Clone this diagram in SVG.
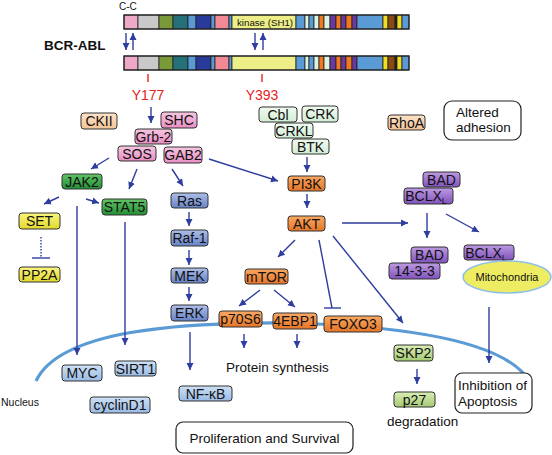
<svg xmlns="http://www.w3.org/2000/svg" width="552" height="455" viewBox="0 0 552 455">
<style>
text{font-family:"Liberation Sans",Arial,sans-serif;fill:#111}
.lb{font-size:14px;text-anchor:middle}
.bx{stroke:#333;stroke-width:1}
.seg{stroke:#222;stroke-width:0.8}
.ar{stroke:#2e3d9e;stroke-width:1.4;fill:none;marker-end:url(#ah)}
.ln{stroke:#2e3d9e;stroke-width:1.4;fill:none}
.red{stroke:#e8201c;stroke-width:1.4}
.rt{font-size:14px;fill:#e8201c;text-anchor:middle}
.pl{font-size:13.5px}
.rb{fill:#fff;stroke:#222;stroke-width:1.2}
</style>
<defs>
<marker id="ah" markerWidth="8" markerHeight="8" refX="7" refY="4" orient="auto" markerUnits="userSpaceOnUse"><path d="M0,0.5 L7,4 L0,7.5 Z" fill="#2e3d9e"/></marker>
<linearGradient id="gPink" x1="0" y1="0" x2="0" y2="1"><stop offset="0" stop-color="#f6c6e0"/><stop offset="1" stop-color="#e88ec3"/></linearGradient>
<linearGradient id="gPeach" x1="0" y1="0" x2="0" y2="1"><stop offset="0" stop-color="#fce3c8"/><stop offset="1" stop-color="#f5c295"/></linearGradient>
<linearGradient id="gMint" x1="0" y1="0" x2="0" y2="1"><stop offset="0" stop-color="#f0faf0"/><stop offset="1" stop-color="#d3edd5"/></linearGradient>
<linearGradient id="gGreen" x1="0" y1="0" x2="0" y2="1"><stop offset="0" stop-color="#62c466"/><stop offset="1" stop-color="#238e36"/></linearGradient>
<linearGradient id="gYellow" x1="0" y1="0" x2="0" y2="1"><stop offset="0" stop-color="#faf480"/><stop offset="1" stop-color="#e2d92c"/></linearGradient>
<linearGradient id="gBlue" x1="0" y1="0" x2="0" y2="1"><stop offset="0" stop-color="#aebee8"/><stop offset="1" stop-color="#6682c6"/></linearGradient>
<linearGradient id="gOrange" x1="0" y1="0" x2="0" y2="1"><stop offset="0" stop-color="#faa862"/><stop offset="1" stop-color="#e67526"/></linearGradient>
<linearGradient id="gPurple" x1="0" y1="0" x2="0" y2="1"><stop offset="0" stop-color="#bd9ae2"/><stop offset="1" stop-color="#8052bc"/></linearGradient>
<linearGradient id="gLBlue" x1="0" y1="0" x2="0" y2="1"><stop offset="0" stop-color="#cde0f5"/><stop offset="1" stop-color="#9abbe5"/></linearGradient>
<linearGradient id="gLGreen" x1="0" y1="0" x2="0" y2="1"><stop offset="0" stop-color="#d9edb4"/><stop offset="1" stop-color="#a6ca74"/></linearGradient>
<g id="barSegs">
<rect class="seg" x="124" y="0" width="14" height="14" fill="#f0a8c8"/>
<rect class="seg" x="138" y="0" width="21" height="14" fill="#c9c9c9"/>
<rect class="seg" x="159" y="0" width="14" height="14" fill="#7a9a3a"/>
<rect class="seg" x="173" y="0" width="15" height="14" fill="#26707a"/>
<rect class="seg" x="188" y="0" width="8" height="14" fill="#5b9bd5"/>
<rect class="seg" x="196" y="0" width="15" height="14" fill="#2a3a9a"/>
<rect class="seg" x="211" y="0" width="4" height="14" fill="#5b9bd5"/>
<rect class="seg" x="215" y="0" width="14" height="14" fill="#f28a96"/>
<rect class="seg" x="229" y="0" width="3" height="14" fill="#5b9bd5"/>
<rect class="seg" x="232" y="0" width="64" height="14" fill="#eeee88"/>
<rect class="seg" x="296" y="0" width="9" height="14" fill="#5b9bd5"/>
<rect class="seg" x="305" y="0" width="4" height="14" fill="#dcf2e2"/>
<rect class="seg" x="309" y="0" width="5" height="14" fill="#5b9bd5"/>
<rect class="seg" x="314" y="0" width="5" height="14" fill="#dcf2e2"/>
<rect class="seg" x="319" y="0" width="5" height="14" fill="#f07820"/>
<rect class="seg" x="324" y="0" width="6" height="14" fill="#dcf2e2"/>
<rect class="seg" x="330" y="0" width="6" height="14" fill="#6a38a0"/>
<rect class="seg" x="336" y="0" width="5" height="14" fill="#f07820"/>
<rect class="seg" x="341" y="0" width="5" height="14" fill="#6a38a0"/>
<rect class="seg" x="346" y="0" width="6" height="14" fill="#f07820"/>
<rect class="seg" x="352" y="0" width="5" height="14" fill="#6a38a0"/>
<rect class="seg" x="357" y="0" width="26" height="14" fill="#5b9bd5"/>
<rect class="seg" x="383" y="0" width="5" height="14" fill="#f0dc20"/>
<rect class="seg" x="388" y="0" width="7" height="14" fill="#8a4a12"/>
<rect class="seg" x="395" y="0" width="2" height="14" fill="#222"/>
<rect class="seg" x="397" y="0" width="5" height="14" fill="#f0dc20"/>
<rect class="seg" x="402" y="0" width="7" height="14" fill="#5b9bd5"/>
<rect x="124" y="0" width="285" height="14" fill="none" stroke="#222" stroke-width="1.2"/>
</g>
</defs>
<rect width="552" height="455" fill="#fff"/>

<!-- nucleus membrane -->
<path d="M36,381 C60,330 180,322 290,323 C400,326 495,340 525,375" fill="none" stroke="#5b9bd5" stroke-width="3.2"/>
<text x="1" y="406" style="font-size:10.5px">Nucleus</text>

<!-- BCR-ABL bars -->
<g id="bcr-abl">
<text x="119" y="10" style="font-size:10px">C-C</text>
<text x="44" y="50" style="font-size:13.5px;font-weight:bold">BCR-ABL</text>
<use href="#barSegs" y="15"/>
<text x="237" y="26" style="font-size:9.7px">kinase (SH1)</text>
<use href="#barSegs" y="56"/>
<text class="rt" x="148" y="100">Y177</text>
<text class="rt" x="262" y="100">Y393</text>
</g>

<g id="connectors">
<line class="ar" x1="126" y1="33" x2="126" y2="50"/>
<line class="ar" x1="133" y1="50" x2="133" y2="33"/>
<line class="ar" x1="255" y1="33" x2="255" y2="50"/>
<line class="ar" x1="263" y1="50" x2="263" y2="33"/>
<line class="red" x1="148" y1="74" x2="148" y2="82"/>
<line class="red" x1="262" y1="74" x2="262" y2="82"/>
<line class="ar" x1="151" y1="107" x2="151" y2="123"/>
<line class="ar" x1="109" y1="158" x2="91" y2="169"/>
<line class="ar" x1="137" y1="169" x2="129" y2="189"/>
<line class="ar" x1="172" y1="169" x2="183" y2="186"/>
<line class="ar" x1="209" y1="159" x2="278" y2="181"/>
<line class="ar" x1="59" y1="197" x2="44" y2="204"/>
<line class="ar" x1="86" y1="199" x2="99" y2="203"/>
<line class="ar" x1="77" y1="206" x2="77" y2="355"/>
<line class="ar" x1="125" y1="222" x2="125" y2="345"/>
<line class="ln" x1="41" y1="237" x2="41" y2="258" stroke-dasharray="1.5,1.5"/>
<line class="ln" x1="32" y1="258" x2="50" y2="258"/>
<line class="ar" x1="189" y1="212" x2="189" y2="226"/>
<line class="ar" x1="189" y1="250" x2="189" y2="265"/>
<line class="ar" x1="189" y1="287" x2="189" y2="301"/>
<line class="ar" x1="190" y1="332" x2="190" y2="370"/>
<line class="ar" x1="307" y1="157" x2="307" y2="172"/>
<line class="ar" x1="307" y1="194" x2="307" y2="208"/>
<line class="ar" x1="342" y1="223" x2="408" y2="223"/>
<line class="ar" x1="295" y1="240" x2="278" y2="257"/>
<line class="ln" x1="319" y1="240" x2="332" y2="308"/>
<line class="ln" x1="324" y1="308" x2="341" y2="308"/>
<line class="ar" x1="333" y1="236" x2="403" y2="323"/>
<line class="ar" x1="260" y1="290" x2="239" y2="306"/>
<line class="ar" x1="274" y1="290" x2="295" y2="307"/>
<line class="ar" x1="244" y1="334" x2="244" y2="348"/>
<line class="ar" x1="297" y1="334" x2="297" y2="348"/>
<line class="ar" x1="427" y1="213" x2="427" y2="238"/>
<line class="ar" x1="446" y1="214" x2="479" y2="232"/>
<line class="ar" x1="489" y1="307" x2="489" y2="363"/>
<line class="ar" x1="417" y1="369" x2="417" y2="384"/>
</g>

<g id="CKII"><rect class="bx" x="81" y="113" width="36" height="16" rx="3" fill="url(#gPeach)"/><text class="lb" x="99" y="126">CKII</text></g>
<g id="SHC"><rect class="bx" x="161" y="112" width="36" height="16" rx="3" fill="url(#gPink)"/><text class="lb" x="179" y="125">SHC</text></g>
<g id="Grb-2"><rect class="bx" x="135" y="129" width="37" height="15" rx="3" fill="url(#gPink)"/><text class="lb" x="153.5" y="141.5">Grb-2</text></g>
<g id="SOS"><rect class="bx" x="118" y="146" width="38" height="15" rx="3" fill="url(#gPink)"/><text class="lb" x="137" y="158.5">SOS</text></g>
<g id="GAB2"><rect class="bx" x="164" y="147" width="38" height="16" rx="3" fill="url(#gPink)"/><text class="lb" x="183" y="160">GAB2</text></g>
<g id="JAK2"><rect class="bx" x="62" y="174" width="40" height="15" rx="3" fill="url(#gGreen)"/><text class="lb" x="82" y="186.5">JAK2</text></g>
<g id="STAT5"><rect class="bx" x="102" y="199" width="45" height="16" rx="3" fill="url(#gGreen)"/><text class="lb" x="124.5" y="212">STAT5</text></g>
<g id="Ras"><rect class="bx" x="171" y="193" width="37" height="15" rx="3" fill="url(#gBlue)"/><text class="lb" x="189.5" y="205.5">Ras</text></g>
<g id="SET"><rect class="bx" x="19" y="213" width="41" height="16" rx="3" fill="url(#gYellow)"/><text class="lb" x="39.5" y="226">SET</text></g>
<g id="PP2A"><rect class="bx" x="19" y="267" width="41" height="15" rx="3" fill="url(#gYellow)"/><text class="lb" x="39.5" y="279.5">PP2A</text></g>
<g id="Raf-1"><rect class="bx" x="171" y="230" width="37" height="16" rx="3" fill="url(#gBlue)"/><text class="lb" x="189.5" y="243">Raf-1</text></g>
<g id="MEK"><rect class="bx" x="171" y="268" width="37" height="15" rx="3" fill="url(#gBlue)"/><text class="lb" x="189.5" y="280.5">MEK</text></g>
<g id="ERK"><rect class="bx" x="171" y="305" width="37" height="16" rx="3" fill="url(#gBlue)"/><text class="lb" x="189.5" y="318">ERK</text></g>
<g id="Cbl"><rect class="bx" x="259" y="107" width="38" height="15" rx="3" fill="url(#gMint)"/><text class="lb" x="278" y="119.5">Cbl</text></g>
<g id="CRK"><rect class="bx" x="302" y="106" width="36" height="16" rx="3" fill="url(#gMint)"/><text class="lb" x="320" y="119">CRK</text></g>
<g id="CRKL"><rect class="bx" x="275" y="123" width="38" height="15" rx="3" fill="url(#gMint)"/><text class="lb" x="294" y="135.5">CRKL</text></g>
<g id="BTK"><rect class="bx" x="292" y="139" width="37" height="15" rx="3" fill="url(#gMint)"/><text class="lb" x="310.5" y="151.5">BTK</text></g>
<g id="RhoA"><rect class="bx" x="388" y="115" width="37" height="15" rx="3" fill="url(#gPeach)"/><text class="lb" x="406.5" y="127.5">RhoA</text></g>
<g id="altered-adhesion"><rect class="rb" x="444" y="101" width="77" height="39" rx="8"/><text class="pl" x="456" y="117">Altered</text><text class="pl" x="456" y="132">adhesion</text></g>
<g id="PI3K"><rect class="bx" x="288" y="176" width="37" height="15" rx="3" fill="url(#gOrange)"/><text class="lb" x="306.5" y="188.5">PI3K</text></g>
<g id="AKT"><rect class="bx" x="288" y="216" width="37" height="15" rx="3" fill="url(#gOrange)"/><text class="lb" x="306.5" y="228.5">AKT</text></g>
<g id="mTOR"><rect class="bx" x="245" y="269" width="43" height="15" rx="3" fill="url(#gOrange)"/><text class="lb" x="266.5" y="281.5">mTOR</text></g>
<g id="p70S6"><rect class="bx" x="219" y="311" width="43" height="16" rx="3" fill="url(#gOrange)"/><text class="lb" x="240.5" y="324">p70S6</text></g>
<g id="4EBP1"><rect class="bx" x="273" y="313" width="44" height="16" rx="3" fill="url(#gOrange)"/><text class="lb" x="295" y="326">4EBP1</text></g>
<g id="FOXO3"><rect class="bx" x="324" y="316" width="58" height="16" rx="3" fill="url(#gOrange)"/><text class="lb" x="353" y="329">FOXO3</text></g>
<text class="pl" x="226" y="372">Protein synthesis</text>
<g id="BAD-top"><rect class="bx" x="423" y="172" width="37" height="15" rx="3" fill="url(#gPurple)"/><text class="lb" x="441.5" y="184.5">BAD</text></g>
<g id="BCLXL-top"><rect class="bx" x="404" y="188" width="49" height="16" rx="3" fill="url(#gPurple)"/><text class="lb" x="426" y="201">BCLX<tspan style="font-size:9px" dy="3">L</tspan></text></g>
<g id="BAD-bottom"><rect class="bx" x="411" y="247" width="37" height="16" rx="3" fill="url(#gPurple)"/><text class="lb" x="429.5" y="260">BAD</text></g>
<g id="14-3-3"><rect class="bx" x="389" y="263" width="51" height="16" rx="3" fill="url(#gPurple)"/><text class="lb" x="414.5" y="276">14-3-3</text></g>
<g id="BCLXL-bottom"><rect class="bx" x="464" y="245" width="50" height="15" rx="3" fill="url(#gPurple)"/><text class="lb" x="486" y="257.5">BCLX<tspan style="font-size:9px" dy="3">L</tspan></text></g>
<g id="Mitochondria"><ellipse cx="507" cy="277" rx="44" ry="16" fill="#eeec62" stroke="#8fc0e8" stroke-width="1.5"/><text x="507" y="281" style="font-size:11px;text-anchor:middle">Mitochondria</text></g>
<g id="MYC"><rect class="bx" x="62" y="365" width="40" height="16" rx="3" fill="url(#gLBlue)"/><text class="lb" x="82" y="378">MYC</text></g>
<g id="SIRT1"><rect class="bx" x="115" y="361" width="41" height="15" rx="3" fill="url(#gLBlue)"/><text class="lb" x="135.5" y="373.5">SIRT1</text></g>
<g id="cyclinD1"><rect class="bx" x="90" y="397" width="60" height="16" rx="3" fill="url(#gLBlue)"/><text class="lb" x="120" y="410">cyclinD1</text></g>
<g id="NF-kB"><rect class="bx" x="179" y="386" width="53" height="15" rx="3" fill="url(#gLBlue)"/><text class="lb" x="205.5" y="398.5">NF-κB</text></g>
<g id="SKP2"><rect class="bx" x="394" y="345" width="39" height="16" rx="3" fill="url(#gLGreen)"/><text class="lb" x="413.5" y="358">SKP2</text></g>
<g id="p27"><rect class="bx" x="394" y="392" width="41" height="15" rx="3" fill="url(#gLGreen)"/><text class="lb" x="414.5" y="404.5">p27</text></g>
<text class="pl" x="387" y="426">degradation</text>
<g id="inhibition-apoptosis"><rect class="rb" x="455" y="373" width="77" height="40" rx="7"/><text class="pl" x="458" y="390">Inhibition of</text><text class="pl" x="458" y="406">Apoptosis</text></g>
<g id="proliferation-survival"><rect class="rb" x="176" y="422" width="177" height="31" rx="7"/><text class="pl" x="264.5" y="443" text-anchor="middle">Proliferation and Survival</text></g>
</svg>
